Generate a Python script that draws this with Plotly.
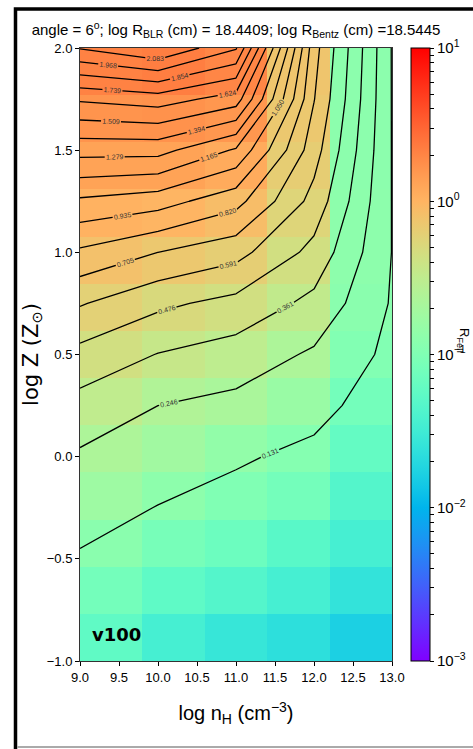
import numpy as np
import plotly.graph_objects as go

# ---------------- data ----------------
log_nH = [9.0, 10.0, 11.0, 12.0, 13.0]
log_Z = [-1.0, -0.75, -0.5, -0.25, 0.0, 0.25, 0.5, 0.75, 1.0, 1.25, 1.5, 1.75, 2.0]

# R_FeII along log Z (bottom -> top) for each density
R_nH9 = [0.056, 0.080, 0.120, 0.175, 0.230, 0.320, 0.440, 0.600, 0.800, 1.030, 1.320, 1.640, 2.090]
R_nH10 = [0.035, 0.055, 0.085, 0.128, 0.185, 0.246, 0.357, 0.500, 0.705, 0.985, 1.320, 1.680, 2.198]
R_nH11 = [0.027, 0.045, 0.070, 0.100, 0.142, 0.215, 0.310, 0.440, 0.630, 0.860, 1.150, 1.570, 1.980]
R_nH12 = [0.0225, 0.035, 0.050, 0.080, 0.110, 0.160, 0.230, 0.330, 0.440, 0.550, 0.640, 0.710, 0.750]
R_nH13 = [0.0164, 0.025, 0.035, 0.045, 0.060, 0.080, 0.103, 0.121, 0.129, 0.128, 0.127, 0.126, 0.125]

x_ticks = [9.0, 9.5, 10.0, 10.5, 11.0, 11.5, 12.0, 12.5, 13.0]
y_ticks = [-1.0, -0.5, 0.0, 0.5, 1.0, 1.5, 2.0]
cbar_decades = [-3, -2, -1, 0, 1]

title_text = ("angle = 6<sup>o</sup>; log R<sub>BLR</sub> (cm) = 18.4409; "
              "log R<sub>Bentz</sub> (cm) =18.5445")
panel_label = "<b>v100</b>"

# ---------------- build ----------------
Z = np.array([R_nH9, R_nH10, R_nH11, R_nH12, R_nH13]).T  # rows = log Z, cols = log nH

# imshow-like extent: cells span the full axis range
x_edges = np.linspace(min(log_nH), max(log_nH), len(log_nH) + 1)
y_edges = np.linspace(min(log_Z), max(log_Z), len(log_Z) + 1)

# matplotlib 'rainbow' colormap
ts = np.linspace(0, 1, 33)
rainbow = []
for t in ts:
    r = min(1, abs(2 * t - 0.5))
    g = np.sin(np.pi * t)
    b = np.cos(np.pi * t / 2)
    rainbow.append([float(t), "rgb(%d,%d,%d)" % (round(255 * r), round(255 * g), round(255 * max(b, 0)))])

levels = np.linspace(Z.min(), Z.max(), 20)

FONT = "Liberation Sans, Arial, DejaVu Sans"
W, H = 473, 749
ML, MR, MT, MB = 80, 81, 48, 88

minor_vals = [float(np.log10(k * 10.0 ** d)) for d in cbar_decades[:-1] for k in range(2, 10)]
cb_vals = list(cbar_decades) + minor_vals
cb_text = ["10<sup>%s</sup>" % (str(d).replace("-", "\u2212")) for d in cbar_decades] + [" "] * len(minor_vals)

fig = go.Figure()
fig.add_trace(go.Heatmap(
    x=x_edges, y=y_edges, z=np.log10(Z),
    zmin=cbar_decades[0], zmax=cbar_decades[-1],
    colorscale=rainbow,
    colorbar=dict(
        xref="container", x=411 / W, xanchor="left", xpad=0, ypad=0,
        y=0.5, yanchor="middle", len=1.0, thickness=19,
        outlinewidth=1, outlinecolor="black",
        tickvals=cb_vals, ticktext=cb_text,
        ticks="outside", ticklen=4, tickcolor="black",
        tickfont=dict(size=15, family=FONT, color="black"),
    ),
    hoverinfo="skip",
))
fig.add_trace(go.Contour(
    x=log_nH, y=log_Z, z=Z,
    contours=dict(start=levels[1], end=levels[-2] + 1e-9, size=levels[1] - levels[0],
                  coloring="none", showlabels=True,
                  labelfont=dict(size=7, color="#333", family=FONT),
                  labelformat=".3f"),
    line=dict(color="black", width=1.3, smoothing=0),
    showscale=False, hoverinfo="skip",
))

fig.update_layout(
    width=W, height=H,
    margin=dict(l=ML, r=MR, t=MT, b=MB, autoexpand=False),
    paper_bgcolor="white", plot_bgcolor="white",
    title=dict(text=title_text, x=0.499, xanchor="center", y=1 - 30 / H, yanchor="middle",
               font=dict(size=15, family=FONT, color="black")),
    showlegend=False,
)
fig.update_xaxes(range=[9, 13], tickvals=x_ticks, tickformat=".1f",
                 ticks="outside", ticklen=4, tickcolor="black",
                 showline=True, linecolor="#333", linewidth=1, mirror=True,
                 showgrid=False, zeroline=False,
                 tickfont=dict(size=13, family=FONT, color="black"),
                 title=dict(text="log n<sub>H</sub> (cm<sup>\u22123</sup>)",
                            font=dict(size=20, family=FONT, color="black"), standoff=22))
fig.update_yaxes(range=[-1, 2], tickvals=y_ticks, tickformat=".1f",
                 ticks="outside", ticklen=4, tickcolor="black",
                 showline=True, linecolor="#333", linewidth=1, mirror=True,
                 showgrid=False, zeroline=False,
                 tickfont=dict(size=13, family=FONT, color="black"),
                 title=dict(text="log Z (Z<sub>\u2299</sub>)",
                            font=dict(size=21, family="DejaVu Sans", color="black"), standoff=2))

PW = W - ML - MR
PH = H - MT - MB


def px_x(p):
    return (p - ML) / PW


def px_y(p):
    return (H - MB - p) / PH


fig.add_annotation(text=panel_label, xref="paper", yref="paper", x=px_x(90), y=px_y(634),
                   xanchor="left", yanchor="middle", showarrow=False,
                   font=dict(size=18, family="DejaVu Sans", color="black"))
fig.add_annotation(text="R<sub>FeII</sub>", xref="paper", yref="paper", x=px_x(464), y=px_y(340),
                   xanchor="center", yanchor="middle", textangle=90, showarrow=False,
                   font=dict(size=13, family=FONT, color="black"))

# outer frame (style)
fig.add_shape(type="path", xref="paper", yref="paper",
              path="M %f %f L %f %f L %f %f" % (px_x(15.5), px_y(752), px_x(15.5), px_y(9),
                                                 px_x(490), px_y(9)),
              line=dict(color="black", width=3.5), layer="above")
fig.add_shape(type="line", xref="paper", yref="paper", x0=px_x(17), x1=px_x(490),
              y0=px_y(747), y1=px_y(747), line=dict(color="#aaaaaa", width=2), layer="above")

fig.write_html("out.html")
